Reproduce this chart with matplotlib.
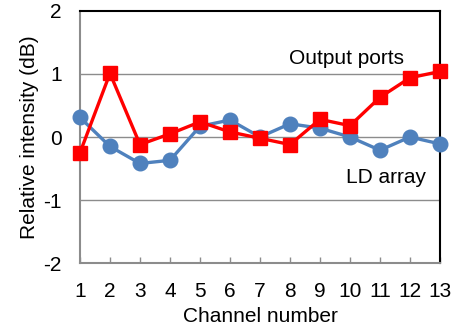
import matplotlib.pyplot as plt

plt.rcParams['font.family'] = ['Liberation Sans', 'DejaVu Sans']
plt.rcParams['axes.unicode_minus'] = False

# Channel index and relative intensity per channel (dB)
channels = list(range(1, 14))
output_ports = [-0.25, 1.01, -0.12, 0.05, 0.24, 0.08, -0.02, -0.12, 0.28, 0.18, 0.63, 0.94, 1.04]
ld_array = [0.31, -0.15, -0.42, -0.37, 0.17, 0.27, 0.0, 0.21, 0.14, 0.0, -0.21, 0.0, -0.11]

fig = plt.figure(figsize=(4.56, 3.31), dpi=100)
ax = fig.add_axes([0.1754, 0.2054, 0.7895, 0.7614])

for y in [-1, 0, 1]:
    ax.axhline(y, color='#8c8c8c', lw=1.0, zorder=1)

ax.plot(channels, ld_array, color='#4f81bd', lw=2.4, marker='o', ms=10.5,
        clip_on=False, zorder=3)
ax.plot(channels, output_ports, color='#ff0000', lw=2.4, marker='s', ms=10,
        clip_on=False, zorder=4)

ax.set_xlim(1, 13)
ax.set_ylim(-2, 2)
ax.set_xticks(channels)
ax.set_yticks([-2, -1, 0, 1, 2])

ax.tick_params(axis='x', direction='in', length=4, width=1, color='#8c8c8c',
               labelsize=15, pad=14)
ax.tick_params(axis='y', length=0, labelsize=15, pad=13)

for side in ['left', 'bottom']:
    ax.spines[side].set_color('#8c8c8c')
    ax.spines[side].set_linewidth(1.5)
for side in ['top', 'right']:
    ax.spines[side].set_color('black')
    ax.spines[side].set_linewidth(1.5)

ax.set_xlabel('Channel number', fontsize=15, labelpad=4)
ax.set_ylabel('Relative intensity (dB)', fontsize=15, labelpad=3)

ax.text(9.87, 1.25, 'Output ports', fontsize=15, ha='center', va='center')
ax.text(11.2, -0.65, 'LD array', fontsize=15, ha='center', va='center')

fig.savefig('out.png', dpi=100)
